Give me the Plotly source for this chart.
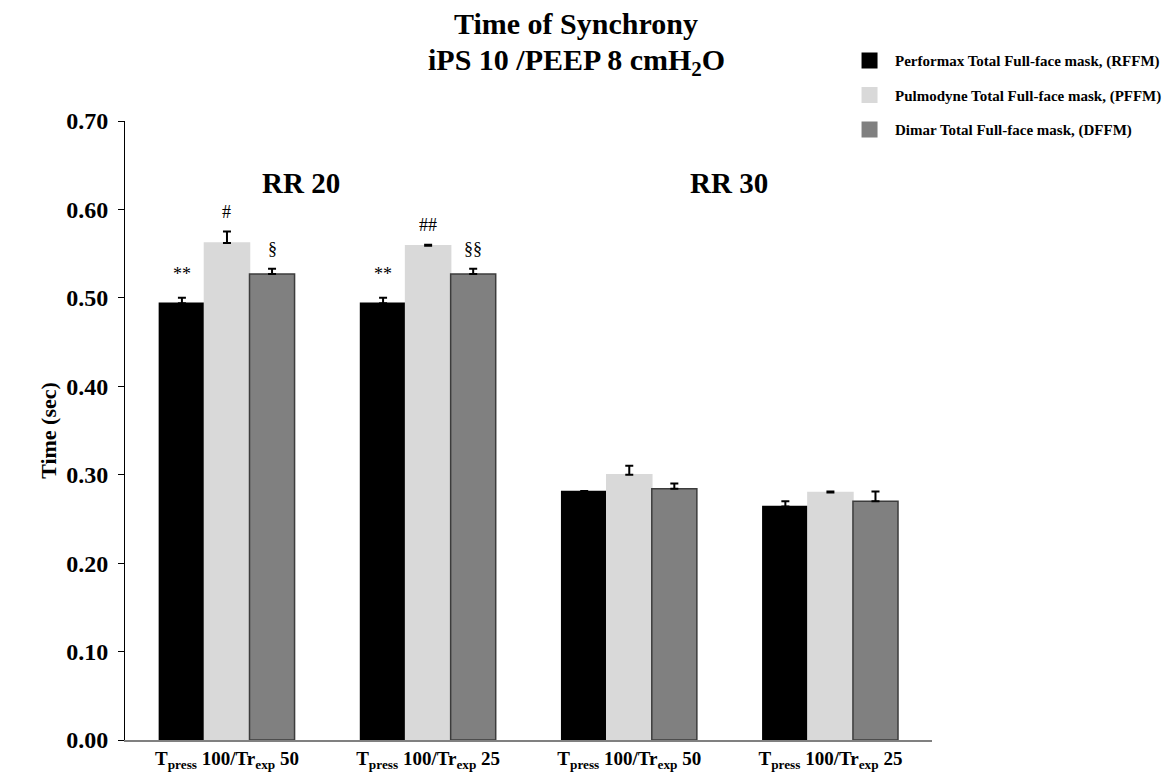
import plotly.graph_objects as go

categories = ["T<sub>press</sub> 100/Tr<sub>exp</sub> 50", "T<sub>press</sub> 100/Tr<sub>exp</sub> 25",
              "T<sub>press</sub> 100/Tr<sub>exp</sub> 50", "T<sub>press</sub> 100/Tr<sub>exp</sub> 25"]
positions = [1, 2, 3, 4]
series_names = ["Performax Total Full-face mask, (RFFM)",
                "Pulmodyne Total Full-face mask, (PFFM)",
                "Dimar Total Full-face mask, (DFFM)"]
rffm = [0.494, 0.494, 0.281, 0.264]
rffm_err = [0.006, 0.006, 0.0005, 0.006]
pffm = [0.562, 0.559, 0.300, 0.280]
pffm_err = [0.013, 0.001, 0.010, 0.001]
dffm = [0.527, 0.527, 0.284, 0.270]
dffm_err = [0.006, 0.006, 0.006, 0.011]
rffm_marks = ["**", "**", "", ""]
pffm_marks = ["#", "##", "", ""]
dffm_marks = ["§", "§§", "", ""]
y_ticks = [0.0, 0.1, 0.2, 0.3, 0.4, 0.5, 0.6, 0.7]

colors = ["#000000", "#d9d9d9", "#808080"]
outlines = ["#000000", "#d9d9d9", "#3c3c3c"]
FONT = "Liberation Serif, Times New Roman, serif"

fig = go.Figure()
data = [(rffm, rffm_err), (pffm, pffm_err), (dffm, dffm_err)]
for i, (vals, errs) in enumerate(data):
    fig.add_trace(go.Bar(
        x=positions, y=vals, name=series_names[i], showlegend=False,
        marker=dict(color=colors[i], line=dict(color=outlines[i], width=1.5)),
        error_y=dict(type="data", array=errs, arrayminus=[0] * len(errs),
                     color="#000000", thickness=2, width=4, symmetric=False),
    ))
    # legend proxy
    fig.add_trace(go.Scatter(
        x=[None], y=[None], mode="markers", name=series_names[i],
        legendgroup=str(i),
        marker=dict(symbol="square", size=19, color=colors[i]),
    ))

# significance marks
offsets = [-0.224, 0.0, 0.224]
marks = [rffm_marks, pffm_marks, dffm_marks]
for i, (vals, errs) in enumerate(data):
    for j, p in enumerate(positions):
        if marks[i][j]:
            fig.add_annotation(x=p + offsets[i], y=vals[j] + errs[j], text=marks[i][j],
                               showarrow=False, yanchor="bottom",
                               yshift=12 if marks[i][j].startswith("*") else 8,
                               font=dict(family=FONT, size=18, color="#000000"))

fig.add_annotation(x=1.37, y=0.630, text="<b>RR 20</b>", showarrow=False,
                   font=dict(family=FONT, size=29, color="#000000"))
fig.add_annotation(x=3.497, y=0.630, text="<b>RR 30</b>", showarrow=False,
                   font=dict(family=FONT, size=29, color="#000000"))
fig.add_annotation(xref="paper", yref="paper", x=0.559, y=1.158, yanchor="middle",
                   text="<b>Time of Synchrony</b>",
                   showarrow=False, font=dict(family=FONT, size=30, color="#000000"))
fig.add_annotation(xref="paper", yref="paper", x=0.559, y=1.095, yanchor="middle",
                   text="<b>iPS 10 /PEEP 8 cmH<sub>2</sub>O</b>",
                   showarrow=False, font=dict(family=FONT, size=30, color="#000000"))

fig.update_layout(
    width=1165, height=766,
    margin=dict(l=117, r=241, t=113, b=34, autoexpand=False),
    plot_bgcolor="white", paper_bgcolor="white",
    barmode="group", bargap=0.328, bargroupgap=0,
    font=dict(family=FONT, color="#000000"),
    legend=dict(x=0.891, y=1.124, xanchor="left", yanchor="top", itemwidth=41,
                font=dict(family=FONT, size=15, weight="bold"),
                tracegroupgap=12, traceorder="grouped", bgcolor="rgba(0,0,0,0)"),
)
fig.update_xaxes(range=[0.493, 4.505], tickmode="array", tickvals=positions,
                 ticktext=["<b>" + c + "</b>" for c in categories],
                 tickfont=dict(family=FONT, size=19), showline=True,
                 linecolor="#808080", linewidth=1.5, ticks="", showgrid=False,
                 zeroline=False, automargin=False)
fig.update_yaxes(range=[0, 0.7], tickmode="array", tickvals=y_ticks,
                 ticktext=["<b>%.2f</b>" % v for v in y_ticks],
                 tickfont=dict(family=FONT, size=24), showline=True,
                 linecolor="#000000", linewidth=1, ticks="outside", ticklen=6,
                 ticklabelstandoff=5,
                 tickcolor="#000000", showgrid=False, zeroline=False, automargin=False,
                 title=dict(text="<b>Time (sec)</b>", font=dict(family=FONT, size=22),
                            standoff=3))

fig.write_html("out.html")
